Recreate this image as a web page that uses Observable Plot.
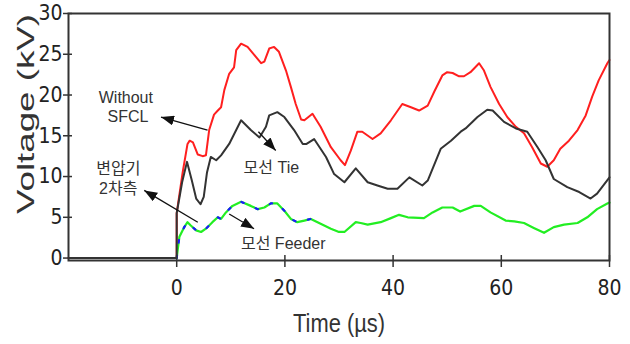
<!DOCTYPE html>
<html>
<head>
<meta charset="utf-8">
<script src="https://cdn.jsdelivr.net/npm/d3@7"></script>
<script src="https://cdn.jsdelivr.net/npm/@observablehq/plot@0.6"></script>
<style>
  html, body { margin: 0; padding: 0; background: #fff; }
  #chart svg { display: block; }
</style>
</head>
<body>
<div id="chart"></div>
<script>
// ---- Data ----
const xTicks = [0, 20, 40, 60, 80];
const yTicks = [0, 5, 10, 15, 20, 25, 30];

// Without SFCL (red)
const redT = [-20, 0, 0, 1.1, 2.0, 2.4, 3.0, 3.9, 4.8, 5.4, 6.0, 6.9, 7.6, 8.2, 8.8, 9.7, 10.6, 11.0, 11.9, 13.1, 14.6, 15.6, 16.2, 17.1, 18.0, 18.9, 20.2, 21.1, 22.0, 23.0, 23.6, 25.1, 26.6, 28.5, 30.3, 31.1, 32.2, 33.4, 34.3, 36.2, 37.7, 39.6, 41.7, 43.3, 44.8, 46.4, 47.6, 49.1, 50.0, 51.0, 52.2, 53.1, 54.3, 55.9, 56.8, 58.0, 59.6, 61.1, 62.7, 64.2, 65.7, 67.3, 68.5, 69.7, 70.9, 72.5, 74.1, 75.6, 76.8, 78.0, 79.6, 80];
const redV = [0, 0, 5.5, 10.5, 14.0, 14.4, 14.2, 12.7, 12.5, 12.6, 15.7, 17.6, 18.1, 18.5, 20.6, 22.6, 23.4, 25.5, 26.3, 25.9, 24.7, 23.9, 24.1, 25.7, 25.9, 25.3, 23.0, 21.0, 18.9, 17.0, 16.9, 17.7, 16.1, 13.6, 12.0, 11.4, 13.2, 15.5, 15.5, 14.6, 15.3, 16.9, 18.9, 18.5, 18.1, 18.7, 20.4, 22.4, 22.8, 22.7, 22.3, 22.3, 22.8, 23.9, 23.0, 21.0, 18.9, 17.3, 16.1, 15.3, 13.6, 11.6, 11.2, 12.0, 13.4, 14.4, 15.7, 17.5, 19.8, 21.8, 23.9, 24.3];

// 모선 Tie (dark grey)
const tieT = [-20, 0, 0, 1.0, 1.9, 2.8, 3.6, 4.4, 5.0, 5.6, 6.3, 7.3, 8.2, 9.7, 11.9, 13.7, 15.3, 16.5, 17.1, 18.6, 19.9, 21.7, 23.3, 24.0, 25.4, 27.6, 29.1, 31.0, 33.1, 35.3, 37.1, 39.0, 40.8, 43.0, 45.4, 46.4, 48.8, 50.7, 52.5, 53.4, 55.6, 57.4, 58.4, 60.5, 62.7, 64.8, 66.7, 68.2, 69.7, 72.2, 74.4, 76.5, 77.7, 80];
const tieV = [0, 0, 5.5, 9.3, 11.8, 9.5, 7.3, 6.6, 7.5, 10.5, 12.4, 12.0, 12.6, 14.0, 16.9, 15.7, 14.8, 16.1, 17.5, 17.9, 17.3, 15.7, 14.0, 14.0, 14.6, 12.4, 10.3, 9.3, 11.0, 9.3, 8.9, 8.5, 8.5, 9.9, 8.9, 9.5, 13.4, 14.4, 15.5, 15.9, 17.3, 18.2, 18.1, 16.7, 15.9, 15.5, 13.6, 12.0, 9.7, 8.7, 8.1, 7.3, 7.9, 9.9];

// 모선 Feeder (green)
const feederT = [0, 0.2, 0.5, 1.4, 2.0, 2.6, 3.6, 4.5, 5.4, 6.6, 7.6, 8.2, 9.1, 10.3, 11.9, 13.7, 15.0, 16.2, 17.4, 18.6, 19.9, 21.1, 22.3, 23.6, 24.8, 26.6, 28.5, 30.0, 31.0, 33.1, 34.0, 35.3, 37.7, 39.6, 41.1, 42.7, 45.7, 47.3, 49.1, 51.0, 52.4, 55.0, 56.2, 58.0, 60.8, 62.4, 64.2, 66.0, 67.9, 69.7, 71.6, 74.1, 75.9, 77.7, 79.6, 80];
const feederV = [0, 1.1, 2.6, 3.8, 4.4, 4.0, 3.4, 3.2, 3.6, 4.4, 5.0, 4.8, 5.6, 6.4, 6.9, 6.4, 6.0, 6.2, 6.7, 6.7, 5.8, 4.8, 4.4, 4.6, 4.8, 4.2, 3.6, 3.2, 3.2, 4.4, 4.3, 4.1, 4.4, 4.9, 5.3, 5.0, 4.9, 5.6, 6.2, 6.2, 5.7, 6.4, 6.4, 5.6, 4.6, 4.5, 4.3, 3.7, 3.1, 3.8, 4.1, 4.3, 5.0, 6.0, 6.7, 6.8];

// 변압기 2차측 (blue, almost identical to the feeder trace)
const trT = [0, 0.2, 0.5, 1.4, 2.0, 2.6, 3.6, 4.5, 5.4, 6.6, 7.6, 8.2, 9.1, 10.3, 11.9, 13.7, 15.0, 16.2, 17.4, 18.6, 19.9, 21.1, 22.3, 23.6, 24.8, 25.6];
const trV = [0, 1.1, 2.6, 3.8, 4.4, 4.0, 3.4, 3.2, 3.6, 4.4, 5.0, 4.8, 5.6, 6.4, 6.9, 6.4, 6.0, 6.2, 6.7, 6.7, 5.8, 4.8, 4.4, 4.6, 4.8, 4.5];

// Annotation labels (data units, centred) and arrows
const labelText = ["Without", "SFCL", "변압기", "2차측", "모선 Tie", "모선 Feeder"];
const labelT = [-9.4, -9.0, -10.8, -10.8, 17.5, 19.7];
const labelV = [19.7, 17.3, 11.0, 8.5, 11.1, 1.8];

const arrowT1 = [5.7, 3.9, 15.1, 9.7];
const arrowV1 = [15.7, 4.4, 15.5, 5.4];
const arrowT2 = [-2.9, -6.0, 18.3, 14.3];
const arrowV2 = [17.3, 8.3, 13.2, 3.6];

// ---- build tables ----
const zip = (T, V) => T.map((t, i) => ({t, v: V[i]}));
const red = zip(redT, redV);
const tie = zip(tieT, tieV);
const feeder = zip(feederT, feederV);
const tr = zip(trT, trV);
const labels = labelText.map((s, i) => ({s, t: labelT[i], v: labelV[i]}));
const arrows = arrowT1.map((t, i) => ({t1: t, v1: arrowV1[i], t2: arrowT2[i], v2: arrowV2[i]}));

function filledHead(color) {
  const m = d3.create("svg:marker")
    .attr("viewBox", "-13 -5 13 10")
    .attr("markerWidth", 13).attr("markerHeight", 10)
    .attr("markerUnits", "userSpaceOnUse")
    .attr("orient", "auto")
    .attr("fill", "#111").attr("stroke", "none");
  m.append("path").attr("d", "M-13,-5L0,0L-13,5Z");
  return m.node();
}

const tickFont = "'Liberation Sans Narrow', 'DejaVu Sans Condensed', 'Liberation Sans', sans-serif";
const annFont = "'Liberation Sans', 'Noto Sans CJK KR', sans-serif";

const chart = Plot.plot({
  width: 630,
  height: 344,
  marginTop: 13,
  marginRight: 21,
  marginBottom: 84,
  marginLeft: 68,
  style: {fontFamily: "'Liberation Sans', Arial, sans-serif", background: "#fff", color: "#222"},
  x: {domain: [-20, 80]},
  y: {domain: [-0.3, 30]},
  marks: [
    Plot.axisY({ticks: yTicks, tickSize: 9, dx: 4, tickFormat: () => "", label: null, stroke: "#333", strokeWidth: 1.5}),
    Plot.axisY({ticks: yTicks, tickSize: 0, tickPadding: 6, fontSize: 21, fontFamily: tickFont, fill: "#222", label: null}),
    Plot.axisX({ticks: xTicks, tickSize: 12, dy: -5, tickFormat: () => "", label: null, stroke: "#333", strokeWidth: 1.5}),
    Plot.axisX({ticks: xTicks, tickSize: 0, tickPadding: 20, fontSize: 21, fontFamily: tickFont, fill: "#222", label: null}),
    Plot.line(red, {x: "t", y: "v", stroke: "#ff1f1f", strokeWidth: 2}),
    Plot.line(feeder, {x: "t", y: "v", stroke: "#22ee22", strokeWidth: 2.2}),
    Plot.line(tr, {x: "t", y: "v", stroke: "#1a1aff", strokeWidth: 2.2, strokeDasharray: "2.5,13"}),
    Plot.line(tie, {x: "t", y: "v", stroke: "#333", strokeWidth: 2}),
    Plot.frame({stroke: "#333", strokeWidth: 2}),
    Plot.link(arrows, {x1: "t1", y1: "v1", x2: "t2", y2: "v2", stroke: "#111", strokeWidth: 1.3, markerEnd: filledHead}),
    Plot.text(labels, {x: "t", y: "v", text: "s", fontSize: 16, fontFamily: annFont, fill: "#333"}),
    Plot.text(["Voltage (kV)"], {frameAnchor: "left", rotate: -90, textAnchor: "start", dx: -42, dy: 77, fontSize: 24, fill: "#333", className: "ylab"}),
    Plot.text(["Time (µs)"], {frameAnchor: "bottom", dy: 71, fontSize: 25, fill: "#333", className: "xlab"})
  ]
});

document.getElementById("chart").appendChild(chart);
d3.select(chart).selectAll(".ylab text").attr("textLength", 200).attr("lengthAdjust", "spacingAndGlyphs");
d3.select(chart).selectAll(".xlab text").attr("textLength", 92).attr("lengthAdjust", "spacingAndGlyphs");
</script>
</body>
</html>
